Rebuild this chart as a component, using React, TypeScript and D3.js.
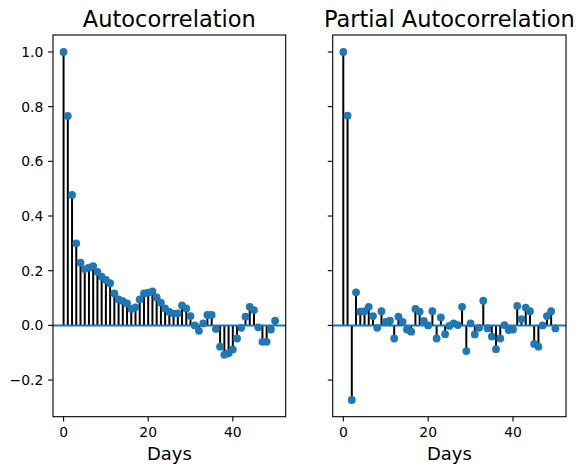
import React from "react";
import * as d3 from "d3";

const lags = d3.range(0, 51);
const acfValues = [
  1.0, 0.766, 0.477, 0.3, 0.229, 0.206, 0.211, 0.217, 0.196, 0.178,
  0.166, 0.154, 0.117, 0.095, 0.089, 0.08, 0.06, 0.066, 0.095, 0.117,
  0.12, 0.124, 0.102, 0.083, 0.062, 0.049, 0.043, 0.044, 0.073, 0.062,
  0.034, 0.0, -0.02, 0.007, 0.038, 0.038, -0.013, -0.078, -0.107, -0.102,
  -0.088, -0.048, -0.009, 0.032, 0.068, 0.056, -0.007, -0.06, -0.06, -0.015,
  0.017,
];
const pacfValues = [
  1.0, 0.767, -0.273, 0.121, 0.05, 0.052, 0.068, 0.034, -0.009, 0.052,
  0.013, 0.017, -0.048, 0.032, 0.013, -0.015, -0.023, 0.06, 0.05, 0.016,
  0.0, 0.052, -0.048, 0.029, -0.032, -0.002, 0.007, 0.001, 0.068, -0.094,
  0.007, -0.033, -0.009, 0.09, -0.011, -0.041, -0.087, -0.048, 0.001, -0.017,
  -0.015, 0.071, 0.023, 0.065, 0.052, -0.068, -0.078, 0.0, 0.034, 0.052,
  -0.011,
];
const xTicks = [0, 20, 40];
const yTicks = [-0.2, 0.0, 0.2, 0.4, 0.6, 0.8, 1.0];
const titles = ["Autocorrelation", "Partial Autocorrelation"];
const xLabel = "Days";

const W = 576;
const H = 464;
const top = 35;
const bottom = 416.7;
const panels = [
  { left: 53, right: 285.7, values: acfValues, title: titles[0], showY: true },
  { left: 332.7, right: 566, values: pacfValues, title: titles[1], showY: false },
];
const font = "DejaVu Sans, sans-serif";
const blue = "#1f77b4";

const fmt = (v: number) => {
  const s = Math.abs(v).toFixed(1);
  return v < -1e-9 ? "\u2212" + s : s;
};

function Panel({ p }: { p: (typeof panels)[number] }) {
  const x = d3.scaleLinear().domain([-2.5, 52.5]).range([p.left, p.right]);
  const y = d3.scaleLinear().domain([-0.334, 1.062]).range([bottom, top]);
  const cx = (p.left + p.right) / 2;
  return (
    <g>
      {lags.map((l, i) => (
        <line
          key={"v" + i}
          x1={x(l)}
          x2={x(l)}
          y1={y(0)}
          y2={y(p.values[i])}
          stroke="#000"
          strokeWidth={2}
        />
      ))}
      <line x1={p.left} x2={p.right} y1={y(0)} y2={y(0)} stroke={blue} strokeWidth={2} />
      {lags.map((l, i) => (
        <circle key={"c" + i} cx={x(l)} cy={y(p.values[i])} r={3.9} fill={blue} />
      ))}
      <rect
        x={p.left}
        y={top}
        width={p.right - p.left}
        height={bottom - top}
        fill="none"
        stroke="#000"
        strokeWidth={1.1}
      />
      {xTicks.map((t) => (
        <g key={"x" + t}>
          <line x1={x(t)} x2={x(t)} y1={bottom} y2={bottom + 4.9} stroke="#000" strokeWidth={1.1} />
          <text
            x={x(t)}
            y={bottom + 9.7}
            textAnchor="middle"
            dominantBaseline="hanging"
            fontFamily={font}
            fontSize={13.9}
            fill="#000"
          >
            {t}
          </text>
        </g>
      ))}
      {yTicks.map((t) => (
        <g key={"y" + t}>
          <line x1={p.left - 4.9} x2={p.left} y1={y(t)} y2={y(t)} stroke="#000" strokeWidth={1.1} />
          {p.showY && (
            <text
              x={p.left - 9.7}
              y={y(t)}
              textAnchor="end"
              dominantBaseline="central"
              fontFamily={font}
              fontSize={13.9}
              fill="#000"
            >
              {fmt(t)}
            </text>
          )}
        </g>
      ))}
      <text
        x={cx}
        y={top - 8.5}
        textAnchor="middle"
        fontFamily={font}
        fontSize={22.5}
        fill="#000"
      >
        {p.title}
      </text>
      <text
        x={cx}
        y={460}
        textAnchor="middle"
        fontFamily={font}
        fontSize={18}
        fill="#000"
      >
        {xLabel}
      </text>
    </g>
  );
}

export default function App() {
  return (
    <svg
      width={W}
      height={H}
      style={{ position: "absolute", left: 0, top: 0, background: "#fff" }}
    >
      <rect width={W} height={H} fill="#fff" />
      {panels.map((p, i) => (
        <Panel key={i} p={p} />
      ))}
    </svg>
  );
}
